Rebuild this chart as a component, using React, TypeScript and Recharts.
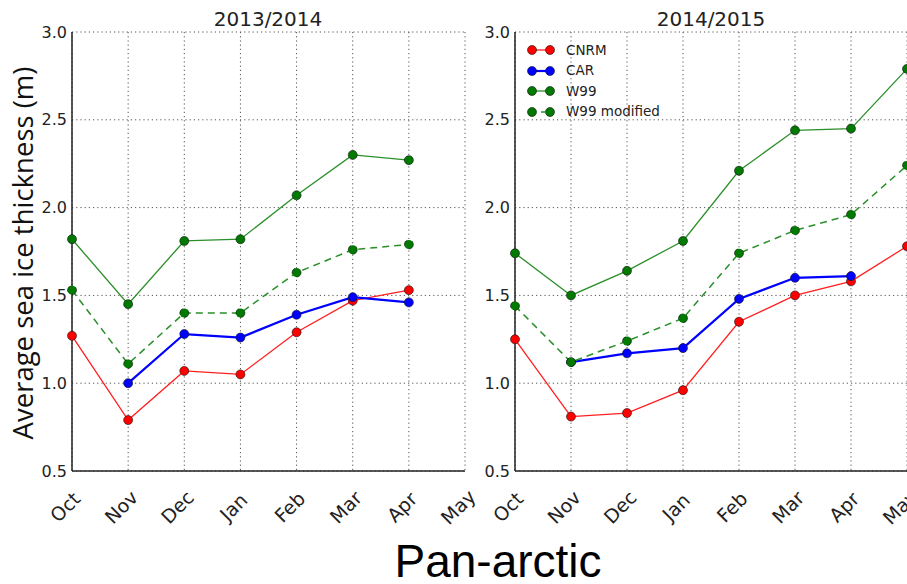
import React from "react";
import {
  CartesianGrid,
  Legend,
  Line,
  LineChart,
  XAxis,
  YAxis
} from "recharts";

const months = ["Oct", "Nov", "Dec", "Jan", "Feb", "Mar", "Apr", "May"];
const yTicks = [0.5, 1.0, 1.5, 2.0, 2.5, 3.0];

// 2013/2014
const cnrm1314 = [1.27, 0.79, 1.07, 1.05, 1.29, 1.47, 1.53, null];
const car1314 = [null, 1.0, 1.28, 1.26, 1.39, 1.49, 1.46, null];
const w991314 = [1.82, 1.45, 1.81, 1.82, 2.07, 2.3, 2.27, null];
const w99mod1314 = [1.53, 1.11, 1.4, 1.4, 1.63, 1.76, 1.79, null];

// 2014/2015
const cnrm1415 = [1.25, 0.81, 0.83, 0.96, 1.35, 1.5, 1.58, 1.78];
const car1415 = [null, 1.12, 1.17, 1.2, 1.48, 1.6, 1.61, null];
const w991415 = [1.74, 1.5, 1.64, 1.81, 2.21, 2.44, 2.45, 2.79];
const w99mod1415 = [1.44, 1.12, 1.24, 1.37, 1.74, 1.87, 1.96, 2.24];

const series = [
  { key: "cnrm", name: "CNRM", color: "#ff1f1f", dot: "#ff0000", width: 1.3, dash: undefined },
  { key: "car", name: "CAR", color: "#0000ff", dot: "#0000ff", width: 2.2, dash: undefined },
  { key: "w99", name: "W99", color: "#2a8f2a", dot: "#007a00", width: 1.3, dash: undefined },
  { key: "w99m", name: "W99 modified", color: "#2a8f2a", dot: "#007a00", width: 1.5, dash: "7 5" }
];

const buildData = (cnrm: any[], car: any[], w99: any[], w99m: any[]) =>
  months.map((m, i) => ({ m, cnrm: cnrm[i], car: car[i], w99: w99[i], w99m: w99m[i] }));

const data1314 = buildData(cnrm1314, car1314, w991314, w99mod1314);
const data1415 = buildData(cnrm1415, car1415, w991415, w99mod1415);

const TICK_FONT = "'DejaVu Sans', sans-serif";
const FRAME = "#222";

const MonthTick = (props: any) => {
  const { x, y, payload } = props;
  const cx = x - 7;
  const cy = y + 36;
  return (
    <text
      x={cx}
      y={cy}
      transform={`rotate(-45, ${cx}, ${cy})`}
      textAnchor="middle"
      dominantBaseline="central"
      fontSize={19}
      fontFamily={TICK_FONT}
      fill="#222"
    >
      {payload.value}
    </text>
  );
};

const LegendBox = () => (
  <div style={{ fontFamily: TICK_FONT, fontSize: 13.5, color: "#222" }}>
    {series.map((s) => (
      <div key={s.key} style={{ display: "flex", alignItems: "center", height: 20.5 }}>
        <svg width={30} height={12}>
          <line x1={5} x2={23} y1={6} y2={6} stroke={s.color} strokeWidth={s.width} strokeDasharray={s.dash ? "4 5" : undefined} />
          <circle cx={5} cy={6} r={4.5} fill={s.dot} stroke="#111" strokeWidth={0.6} />
          <circle cx={23} cy={6} r={4.5} fill={s.dot} stroke="#111" strokeWidth={0.6} />
        </svg>
        <span style={{ marginLeft: 9, lineHeight: 1 }}>{s.name}</span>
      </div>
    ))}
  </div>
);

function Panel({ data, width, yWidth, right, legend }: any) {
  return (
    <LineChart width={width} height={584} data={data} margin={{ top: 32, right, bottom: 0, left: 0 }}>
      <CartesianGrid stroke="#555" strokeDasharray="1.2 3" />
      <XAxis
        dataKey="m"
        interval={0}
        height={113}
        tickLine={false}
        tickSize={0}
        tickMargin={0}
        axisLine={{ stroke: FRAME, strokeWidth: 1.5 }}
        tick={<MonthTick />}
      />
      <XAxis xAxisId="top" orientation="top" dataKey="m" height={0} tick={false} tickLine={false} axisLine={{ stroke: FRAME, strokeWidth: 1.5 }} />
      <YAxis
        type="number"
        domain={[0.5, 3]}
        ticks={yTicks}
        interval={0}
        width={yWidth}
        tickLine={false}
        tickSize={0}
        tickMargin={5}
        tickFormatter={(v: number) => v.toFixed(1)}
        axisLine={{ stroke: FRAME, strokeWidth: 1.5 }}
        tick={{ fontSize: 16, fontFamily: TICK_FONT, fill: "#222" }}
      />
      <YAxis yAxisId="r" orientation="right" type="number" domain={[0.5, 3]} width={0} tick={false} tickLine={false} axisLine={{ stroke: FRAME, strokeWidth: 1.5 }} />
      {legend && (
        <Legend
          layout="horizontal"
          verticalAlign="middle"
          align="center"
          content={<LegendBox />}
          wrapperStyle={{ left: 87, top: 40, width: "auto", height: "auto" }}
        />
      )}
      {series.map((s) => (
        <Line
          key={s.key}
          dataKey={s.key}
          name={s.name}
          type="linear"
          stroke={s.color}
          strokeWidth={s.width}
          strokeDasharray={s.dash}
          dot={{ r: 4.5, fill: s.dot, stroke: "#111", strokeWidth: 0.6 }}
          activeDot={false}
          isAnimationActive={false}
        />
      ))}
    </LineChart>
  );
}

export default function App() {
  return (
    <div style={{ position: "absolute", left: 0, top: 0, width: 907, height: 584, overflow: "hidden", background: "#fff" }}>
      <div style={{ position: "absolute", left: 0, top: 0 }}>
        <Panel data={data1314} width={480} yWidth={72} right={15} legend={false} />
      </div>
      <div style={{ position: "absolute", left: 440, top: 0 }}>
        <Panel data={data1415} width={520} yWidth={75} right={53} legend={true} />
      </div>
      <div style={{ position: "absolute", left: 268, top: 9, transform: "translateX(-50%)", fontFamily: TICK_FONT, fontSize: 20, lineHeight: 1, color: "#222", whiteSpace: "nowrap" }}>
        2013/2014
      </div>
      <div style={{ position: "absolute", left: 711, top: 9, transform: "translateX(-50%)", fontFamily: TICK_FONT, fontSize: 20, lineHeight: 1, color: "#222", whiteSpace: "nowrap" }}>
        2014/2015
      </div>
      <div style={{ position: "absolute", left: 23, top: 253, transform: "translate(-50%, -50%) rotate(-90deg)", fontFamily: "'Open Sans', sans-serif", fontSize: 27.5, lineHeight: 1, color: "#111", whiteSpace: "nowrap" }}>
        Average sea ice thickness (m)
      </div>
      <div style={{ position: "absolute", left: 498, top: 540, transform: "translateX(-50%)", fontFamily: "'Liberation Sans', Arial, sans-serif", fontSize: 46, lineHeight: 0.92, color: "#000", whiteSpace: "nowrap" }}>
        Pan-arctic
      </div>
    </div>
  );
}
